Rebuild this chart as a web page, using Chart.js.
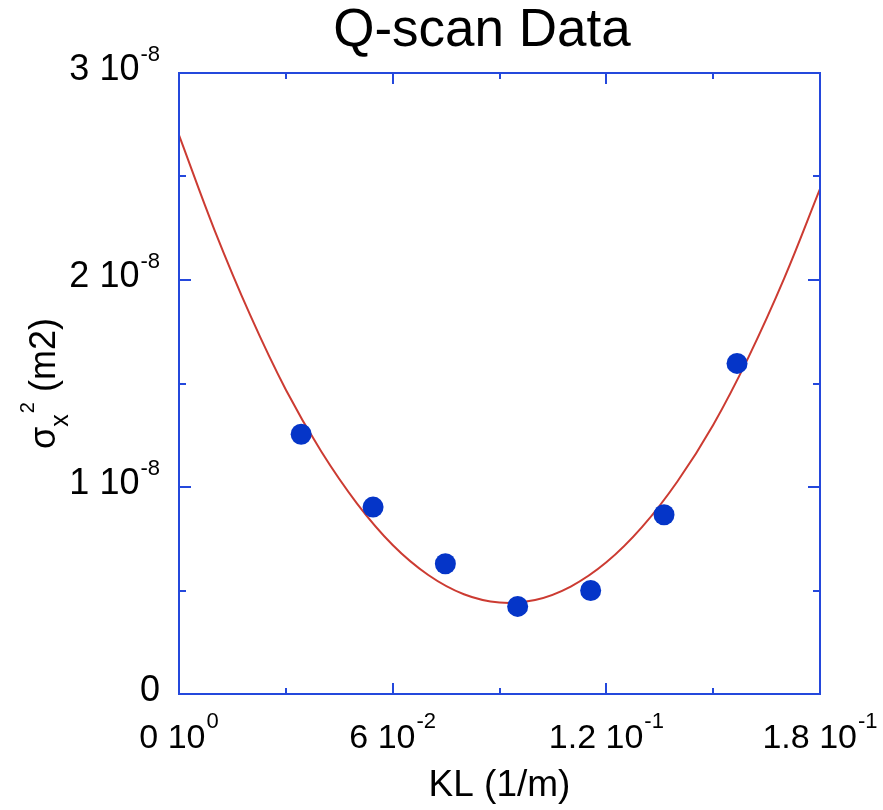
<!DOCTYPE html>
<html>
<head>
<meta charset="utf-8">
<style>
  html, body { margin: 0; padding: 0; background: #ffffff; }
  #wrap { width: 883px; height: 810px; position: relative; }
  canvas { display: block; }
</style>
<script src="https://cdn.jsdelivr.net/npm/chart.js@4.4.0/dist/chart.umd.min.js"></script>
</head>
<body>
<div id="wrap"><canvas id="c" width="883" height="810"></canvas></div>
<script>
// ---- data ----
const titleText = 'Q-scan Data';
const xAxisTitle = 'KL (1/m)';
const yAxisTitleMain = 'σ';
const yAxisTitleSub = 'x';
const yAxisTitleSup = '2';
const yAxisTitleRest = ' (m2)';

// measured points
const kl = [0.0343, 0.0545, 0.0748, 0.0951, 0.1156, 0.1362, 0.1567];
const sigma2 = [1.255e-8, 0.903e-8, 0.629e-8, 0.423e-8, 0.500e-8, 0.866e-8, 1.597e-8];

// fitted curve
const fitKL = [0, 0.01, 0.02, 0.03, 0.04, 0.05, 0.06, 0.07, 0.08, 0.09, 0.10, 0.11, 0.12, 0.13, 0.14, 0.15, 0.16, 0.17, 0.18];
const fitSigma2 = [2.70e-8, 2.24e-8, 1.83e-8, 1.47e-8, 1.17e-8, 0.92e-8, 0.72e-8, 0.575e-8, 0.482e-8, 0.442e-8, 0.454e-8, 0.519e-8, 0.636e-8, 0.806e-8, 1.028e-8, 1.30e-8, 1.63e-8, 2.01e-8, 2.44e-8];

// ticks
const xMajorTicks = [0, 0.06, 0.12, 0.18];
const xMinorTicks = [0.03, 0.09, 0.15];
const yMajorTicks = [0, 1e-8, 2e-8, 3e-8];
const yMinorTicks = [0.5e-8, 1.5e-8, 2.5e-8];
const xTickBase = ['0 10', '6 10', '1.2 10', '1.8 10'];
const xTickExp = ['0', '-2', '-1', '-1'];
const yTickBase = ['0', '1 10', '2 10', '3 10'];
const yTickExp = ['', '-8', '-8', '-8'];

// ---- styling ----
const FONT = '"Liberation Sans", Arial, Helvetica, sans-serif';
const FRAME = '#2448dc';
const POINT = '#0535c8';
const CURVE = '#cc3b32';

const framePlugin = {
  id: 'frameAndLabels',
  afterDatasetsDraw(chart) {
    const ctx = chart.ctx;
    const a = chart.chartArea;
    const xs = chart.scales.x, ys = chart.scales.y;
    ctx.save();
    // frame
    ctx.strokeStyle = FRAME;
    ctx.lineWidth = 2;
    ctx.strokeRect(a.left, a.top, a.right - a.left, a.bottom - a.top);
    // ticks (inward, all four sides)
    ctx.beginPath();
    const xt = (v, len) => {
      const p = Math.round(xs.getPixelForValue(v));
      ctx.moveTo(p, a.bottom); ctx.lineTo(p, a.bottom - len);
      ctx.moveTo(p, a.top); ctx.lineTo(p, a.top + len);
    };
    const yt = (v, len) => {
      const p = Math.round(ys.getPixelForValue(v));
      ctx.moveTo(a.left, p); ctx.lineTo(a.left + len, p);
      ctx.moveTo(a.right, p); ctx.lineTo(a.right - len, p);
    };
    xMajorTicks.forEach(v => xt(v, 11));
    xMinorTicks.forEach(v => xt(v, 6));
    yMajorTicks.forEach(v => yt(v, 12));
    yMinorTicks.forEach(v => yt(v, 7));
    ctx.stroke();

    // tick labels with superscripts
    ctx.fillStyle = '#000';
    ctx.textBaseline = 'alphabetic';
    ctx.textAlign = 'left';
    const XM = 34, XE = 22;
    xMajorTicks.forEach((v, i) => {
      const p = xs.getPixelForValue(v);
      ctx.font = XM + 'px ' + FONT;
      const w1 = ctx.measureText(xTickBase[i]).width;
      ctx.font = XE + 'px ' + FONT;
      const w2 = ctx.measureText(xTickExp[i]).width;
      let start = p - (w1 + 1 + w2) / 2;
      if (start + w1 + 1 + w2 > 880) start = 880 - (w1 + 1 + w2);
      ctx.font = XM + 'px ' + FONT;
      ctx.fillText(xTickBase[i], start, 748);
      ctx.font = XE + 'px ' + FONT;
      ctx.fillText(xTickExp[i], start + w1 + 1, 728);
    });
    yMajorTicks.forEach((v, i) => {
      const p = ys.getPixelForValue(v);
      ctx.font = '36px ' + FONT;
      const w1 = ctx.measureText(yTickBase[i]).width;
      ctx.font = '22px ' + FONT;
      const w2 = yTickExp[i] ? ctx.measureText(yTickExp[i]).width : 0;
      const end = 160;
      const start = end - w2 - (w2 ? 1 : 0) - w1;
      ctx.font = '36px ' + FONT;
      ctx.fillText(yTickBase[i], start, p + 7);
      if (yTickExp[i]) {
        ctx.font = '22px ' + FONT;
        ctx.fillText(yTickExp[i], start + w1 + 1, p - 12);
      }
    });

    // x axis title
    ctx.font = '37px ' + FONT;
    ctx.textAlign = 'center';
    ctx.fillText(xAxisTitle, (a.left + a.right) / 2, 796);

    // y axis title (rotated)
    ctx.textAlign = 'left';
    ctx.font = '36px ' + FONT;
    const wMain = ctx.measureText(yAxisTitleMain).width;
    const wRest = ctx.measureText(yAxisTitleRest).width;
    ctx.font = '25px ' + FONT;
    const wSub = ctx.measureText(yAxisTitleSub).width;
    ctx.font = '20px ' + FONT;
    const wSup = ctx.measureText(yAxisTitleSup).width;
    const total = wMain + wSub + wSup + 1 + wRest;
    const cy = (a.top + a.bottom) / 2;
    ctx.translate(55, cy + total / 2);
    ctx.rotate(-Math.PI / 2);
    let x = 0;
    ctx.font = '36px ' + FONT;
    ctx.fillText(yAxisTitleMain, x, 0); x += wMain;
    ctx.font = '25px ' + FONT;
    ctx.fillText(yAxisTitleSub, x, 13); x += wSub + 1;
    ctx.font = '20px ' + FONT;
    ctx.fillText(yAxisTitleSup, x, -21); x += wSup;
    ctx.font = '36px ' + FONT;
    ctx.fillText(yAxisTitleRest, x, 0);
    ctx.restore();
  }
};

new Chart(document.getElementById('c').getContext('2d'), {
  type: 'scatter',
  data: {
    datasets: [
      {
        label: 'fit',
        data: fitKL.map((x, i) => ({ x: x, y: fitSigma2[i] })),
        showLine: true,
        borderColor: CURVE,
        borderWidth: 2,
        pointRadius: 0,
        tension: 0.4,
        order: 2
      },
      {
        label: 'data',
        data: kl.map((x, i) => ({ x: x, y: sigma2[i] })),
        pointRadius: 10.5,
        pointBackgroundColor: POINT,
        pointBorderWidth: 0,
        showLine: false,
        order: 1
      }
    ]
  },
  options: {
    responsive: false,
    animation: false,
    devicePixelRatio: 1,
    layout: { padding: { left: 144, right: 63, top: 0, bottom: 0 } },
    plugins: {
      legend: { display: false },
      tooltip: { enabled: false },
      title: {
        display: true,
        text: titleText,
        color: '#000',
        font: { family: FONT, size: 53, weight: 'normal', lineHeight: 1.2 },
        padding: { top: 0, bottom: 9.4 }
      }
    },
    scales: {
      x: {
        type: 'linear', min: 0, max: 0.18,
        grid: { display: false }, border: { display: false },
        ticks: { display: false },
        afterFit: s => { s.height = 116; }
      },
      y: {
        type: 'linear', min: 0, max: 3e-8,
        grid: { display: false }, border: { display: false },
        ticks: { display: false },
        afterFit: s => { s.width = 35; }
      }
    }
  },
  plugins: [framePlugin]
});
</script>
</body>
</html>
